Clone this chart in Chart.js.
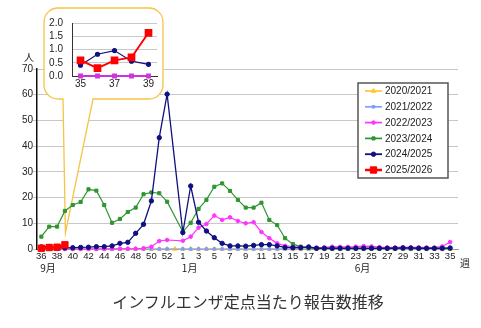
<!DOCTYPE html>
<html>
<head>
<meta charset="utf-8">
<script src="https://cdn.jsdelivr.net/npm/chart.js@4.4.1/dist/chart.umd.min.js"></script>
<style>
  body { margin: 0; background: #fff; }
  #wrap { position: relative; width: 481px; height: 328px; overflow: hidden; }
  #main { position: absolute; left: 0; top: 0; }
  #inset { position: absolute; left: 44px; top: 8px; }
  #title { position: absolute; left: 0; top: 289px; width: 496px; text-align: center;
           font: 16px "Noto Sans CJK JP", sans-serif; line-height: 24px; color: #333; }
</style>
</head>
<body>
<div id="wrap">
  <canvas id="main" width="481" height="328"></canvas>
  <canvas id="inset" width="119" height="91"></canvas>
  <div id="title">インフルエンザ定点当たり報告数推移</div>
</div>
<script>
// week numbers along the x axis (season runs week 36 .. week 35, with week 53 only in 2020/2021)
const weekLabels = ['36','37','38','39','40','41','42','43','44','45','46','47','48','49','50','51','52','53',
  '1','2','3','4','5','6','7','8','9','10','11','12','13','14','15','16','17','18','19','20',
  '21','22','23','24','25','26','27','28','29','30','31','32','33','34','35'];
const monthNames = ['9月', '1月', '6月'];
const monthStartWeeks = ['36', '1', '23'];
const seasonNames = ['2020/2021', '2021/2022', '2022/2023', '2023/2024', '2024/2025', '2025/2026'];

const s2020 = [0,0,0,0,0,0,0,0,0,0,0,0,0,0,0,0,0,0,
  0,0,0,0,0,0,0,0,0,0,0,0,0,0,0,0,0,0,0,0,0,0,0,0,0,0,0,0,0,0,0,0,0,0,0];
const s2021 = [0,0,0,0,0,0,0,0,0,0,0,0,0,0,0,0,0,null,
  0,0,0,0,0,0,0,0,0,0,0,0,0,0,0,0,0,0,0,0,0,0,0,0,0,0,0,0,0,0,0,0,0,0,0];
const s2022 = [0,0,0,0,0,0,0,0,0,0.1,0.1,0.1,0.1,0.3,0.9,3.1,3.5,null,
  3.2,4.8,8.3,9.7,13.0,11.3,12.3,10.9,10.0,10.4,6.6,4.2,2.2,1.2,0.9,0.8,0.6,0.5,0.6,0.9,
  0.8,0.8,0.9,1.1,1.0,0.7,0.6,0.6,0.7,0.6,0.6,0.5,0.5,1.0,2.7];
const s2023 = [4.8,8.7,8.7,14.8,17.1,18.3,23.2,22.7,17.1,10.2,11.7,14.4,16.1,21.3,22.0,21.7,18.4,null,
  6.7,10.2,15.6,19.1,24.2,25.5,22.6,19.1,16.1,16.1,18.0,11.3,9.3,4.2,1.9,0.9,0.4,0.2,0.2,0.2,
  0.2,0.2,0.2,0.2,0.2,0.2,0.2,0.2,0.2,0.2,0.2,0.2,0.2,0.2,0.2];
const s2024 = [0.82,0.96,0.56,0.44,0.5,0.6,0.7,0.9,0.9,1.2,2.2,2.6,6.1,9.6,18.7,43.3,60.2,null,
  6.4,24.5,10.4,7.0,4.4,2.2,1.2,1.2,1.1,1.4,1.7,1.7,1.2,0.6,0.5,0.5,0.8,0.3,0.3,0.3,
  0.3,0.3,0.3,0.3,0.3,0.3,0.3,0.3,0.4,0.4,0.3,0.3,0.3,0.3,0.4];
const s2025 = [0.30,0.59,0.70,1.63];

// inset: weeks 35..39
const insetWeeks = ['35','36','37','38','39'];
const insetRed = [0.59,0.30,0.59,0.70,1.63];
const insetNavy = [0.41,0.82,0.96,0.56,0.44];
const insetBase = [0,0,0,0,0];

const tickFont = { family: 'Liberation Sans', size: 10 };
const toPoints = vals => vals.map((v, i) => ({ x: i, y: v }));

function series(label, vals, color, style, radius, width, order) {
  return {
    label, data: toPoints(vals), borderColor: color, backgroundColor: color,
    pointStyle: style, pointRadius: radius, pointBorderWidth: 1, borderWidth: width,
    spanGaps: true, clip: false, order
  };
}

// speech-bubble behind the inset, pointing at week 39 of the current season
const calloutPlugin = {
  id: 'callout',
  beforeDatasetsDraw(chart) {
    const ctx = chart.ctx;
    const tipX = chart.scales.x.getPixelForValue(3) + 0.5;
    const tipY = chart.scales.y.getPixelForValue(s2025[3]) - 12;
    const L = 44, T = 8, R = 163, B = 99, r = 14;
    ctx.save();
    ctx.beginPath();
    ctx.moveTo(L + r, T);
    ctx.lineTo(R - r, T);
    ctx.arcTo(R, T, R, T + r, r);
    ctx.lineTo(R, B - r);
    ctx.arcTo(R, B, R - r, B, r);
    ctx.lineTo(93, B);
    ctx.lineTo(tipX, tipY);
    ctx.lineTo(63, B);
    ctx.lineTo(L + r, B);
    ctx.arcTo(L, B, L, B - r, r);
    ctx.lineTo(L, T + r);
    ctx.arcTo(L, T, L + r, T, r);
    ctx.closePath();
    ctx.fillStyle = '#fff';
    ctx.fill();
    ctx.strokeStyle = '#f6c445';
    ctx.lineWidth = 1.3;
    ctx.stroke();
    ctx.restore();
  }
};

// legend box, axis units and month labels
const decorPlugin = {
  id: 'decor',
  afterDraw(chart) {
    const ctx = chart.ctx;
    const xs = chart.scales.x;
    ctx.save();
    ctx.fillStyle = '#222';
    ctx.font = '10px "Noto Sans CJK JP"';
    ctx.textBaseline = 'middle';
    ctx.textAlign = 'left';
    monthNames.forEach((m, i) => {
      const x = xs.getPixelForValue(weekLabels.indexOf(monthStartWeeks[i]));
      ctx.fillText(m, x - 1, 268);
    });
    ctx.textAlign = 'center';
    ctx.fillText('人', 29, 57);
    ctx.fillText('週', 465, 263);

    // legend
    ctx.fillStyle = '#fff';
    ctx.fillRect(358, 83, 90, 95);
    ctx.strokeStyle = '#555';
    ctx.lineWidth = 1.5;
    ctx.strokeRect(358, 83, 90, 95);
    ctx.font = '10px "Liberation Sans"';
    ctx.textAlign = 'left';
    seasonNames.forEach((name, i) => {
      const ds = chart.data.datasets[i];
      const y = 91 + i * 15.8;
      ctx.strokeStyle = ds.borderColor;
      ctx.lineWidth = ds.borderWidth + 0.5;
      ctx.beginPath();
      ctx.moveTo(365, y);
      ctx.lineTo(382, y);
      ctx.stroke();
      ctx.fillStyle = ds.backgroundColor;
      ctx.lineWidth = 1;
      Chart.helpers.drawPoint(ctx, { pointStyle: ds.pointStyle, radius: ds.pointRadius, borderWidth: 1, rotation: 0 }, 373.5, y);
      ctx.fillStyle = '#222';
      ctx.fillText(name, 385, y + 0.5);
    });
    ctx.restore();
  }
};

new Chart(document.getElementById('main'), {
  type: 'line',
  data: {
    datasets: [
      series(seasonNames[0], s2020, '#ffc72c', 'triangle', 2.5, 1.2, 5),
      series(seasonNames[1], s2021, '#7f9fff', 'rect', 1.8, 1.2, 4),
      series(seasonNames[2], s2022, '#ff33ff', 'circle', 1.8, 1.2, 3),
      series(seasonNames[3], s2023, '#2e9630', 'rect', 2.2, 1.2, 2),
      series(seasonNames[4], s2024, '#101080', 'circle', 2.2, 1.3, 1),
      series(seasonNames[5], s2025, '#ff0000', 'rect', 4.5, 2, 0)
    ]
  },
  options: {
    responsive: false,
    animation: false,
    devicePixelRatio: 1,
    layout: { padding: { top: 69, right: 23, bottom: 59, left: 0 } },
    plugins: { legend: { display: false }, tooltip: { enabled: false } },
    scales: {
      x: {
        type: 'linear', min: -0.55, max: 53,
        afterBuildTicks: s => { s.ticks = weekLabels.map((w, i) => ({ value: i })); },
        afterFit: s => { s.height = 20; },
        grid: { display: false, drawTicks: false },
        border: { color: '#999' },
        ticks: {
          autoSkip: false, maxRotation: 0, padding: 2, color: '#222',
          font: { family: 'Liberation Sans', size: 9.5 },
          callback: v => (v % 2 === 0 ? weekLabels[v] : '')
        }
      },
      y: {
        min: 0, max: 70,
        afterFit: s => { s.width = 37; },
        grid: { color: '#c8c8c8', tickLength: 4 },
        border: { color: '#111', width: 1.5 },
        ticks: { stepSize: 10, padding: 0, color: '#222', font: tickFont }
      }
    }
  },
  plugins: [calloutPlugin, decorPlugin]
});

new Chart(document.getElementById('inset'), {
  type: 'line',
  data: {
    labels: insetWeeks,
    datasets: [
      { data: insetRed, borderColor: '#ff0000', backgroundColor: '#ff0000', pointStyle: 'rect', pointRadius: 4, borderWidth: 2, clip: false },
      { data: insetNavy, borderColor: '#101080', backgroundColor: '#101080', pointStyle: 'circle', pointRadius: 2, borderWidth: 1.2, clip: false },
      { data: insetBase, borderColor: '#cc33dd', backgroundColor: '#ff33ff', pointStyle: 'rect', pointRadius: 2, borderWidth: 2, clip: false }
    ]
  },
  options: {
    responsive: false,
    animation: false,
    devicePixelRatio: 1,
    layout: { padding: { top: 12, right: 6, bottom: 9, left: 0 } },
    plugins: { legend: { display: false }, tooltip: { enabled: false } },
    scales: {
      x: {
        offset: true,
        afterFit: s => { s.height = 14; },
        grid: { display: false, drawTicks: false },
        border: { color: '#333' },
        ticks: {
          autoSkip: false, maxRotation: 0, padding: 2, color: '#222', font: tickFont,
          callback: function (v, i) { return i % 2 === 0 ? this.getLabelForValue(v) : ''; }
        }
      },
      y: {
        min: 0, max: 2,
        afterFit: s => { s.width = 28; },
        grid: { color: '#c8c8c8', drawTicks: false },
        border: { color: '#333' },
        ticks: { autoSkip: false, stepSize: 0.5, padding: 9, color: '#222', font: tickFont, callback: v => v.toFixed(1) }
      }
    }
  }
});
</script>
</body>
</html>
